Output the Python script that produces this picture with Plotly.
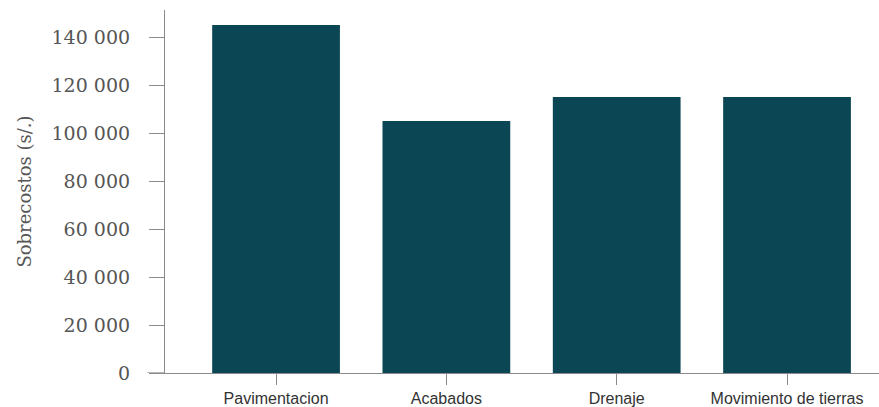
import plotly.graph_objects as go

categories = ["Pavimentacion", "Acabados", "Drenaje", "Movimiento de tierras"]
values = [145000, 105000, 115000, 115000]
tick_vals = [0, 20000, 40000, 60000, 80000, 100000, 120000, 140000]
tick_text = ["0", "20 000", "40 000", "60 000", "80 000", "100 000", "120 000", "140 000"]

bar_color = "#0b4655"
text_color = "#555555"
axis_color = "#8a8a8a"

fig = go.Figure(go.Bar(x=categories, y=values, marker_color=bar_color,
                       marker_line_width=0, width=0.75))

fig.update_layout(
    width=879, height=407,
    margin=dict(l=165, r=0, t=10, b=34),
    plot_bgcolor="white", paper_bgcolor="white",
    showlegend=False,
    xaxis=dict(
        range=[-0.652, 3.54],
        showgrid=False, showline=True, linecolor=axis_color, linewidth=1.2,
        ticks="outside", ticklen=11, tickcolor=axis_color, tickwidth=1,
        tickfont=dict(family="Liberation Sans Narrow, Liberation Sans, sans-serif", size=16, color="#333333"),
    ),
    yaxis=dict(
        range=[0, 151250],
        tickvals=tick_vals, ticktext=tick_text,
        showgrid=False, showline=True, linecolor=axis_color, linewidth=1.2,
        ticks="outside", ticklen=15, tickcolor=axis_color, tickwidth=1,
        ticklabelstandoff=15,
        tickfont=dict(family="DejaVu Serif, serif", size=19, color=text_color),
        title=dict(text="Sobrecostos (s/.)", standoff=15,
                   font=dict(family="DejaVu Serif, serif", size=18, color=text_color)),
        zeroline=False,
    ),
    shapes=[dict(type="line", xref="paper", yref="y", x0=-0.025, x1=0, y0=0, y1=0,
                 line=dict(color=axis_color, width=1.2))],
)

fig.write_html("out.html")
